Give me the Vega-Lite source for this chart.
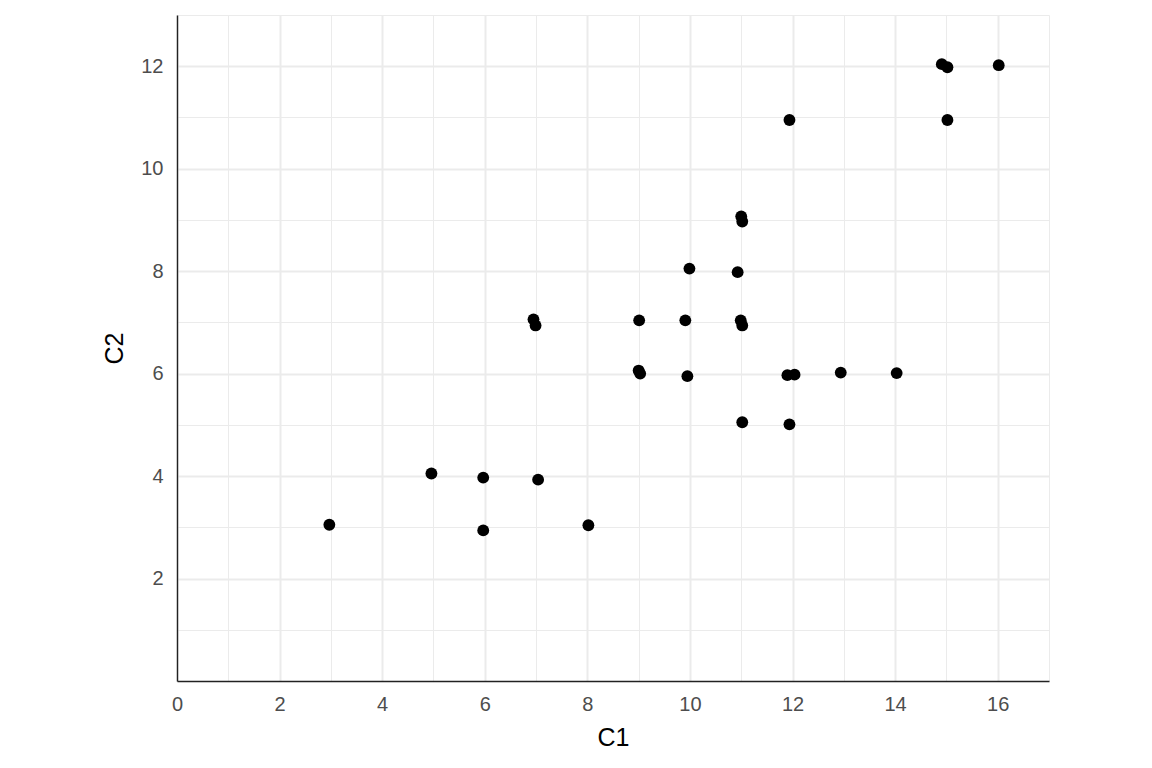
{
  "$schema": "https://vega.github.io/schema/vega-lite/v6.json",
  "width": 872,
  "height": 666,
  "autosize": {"type": "none"},
  "padding": {"left": 177, "top": 15, "right": 103, "bottom": 87},
  "background": "white",
  "config": {
    "view": {"stroke": null}
  },
  "data": {
    "values": [
      {"C1": 2.97, "C2": 3.05},
      {"C1": 4.96, "C2": 4.05},
      {"C1": 5.97, "C2": 3.97},
      {"C1": 5.97, "C2": 2.94},
      {"C1": 7.04, "C2": 3.93},
      {"C1": 8.02, "C2": 3.04},
      {"C1": 6.95, "C2": 7.06},
      {"C1": 6.99, "C2": 6.94},
      {"C1": 9.0, "C2": 6.06},
      {"C1": 9.03, "C2": 6.0},
      {"C1": 9.01, "C2": 7.04},
      {"C1": 9.91, "C2": 7.04},
      {"C1": 9.95, "C2": 5.95},
      {"C1": 9.99, "C2": 8.05},
      {"C1": 10.93, "C2": 7.98},
      {"C1": 11.0, "C2": 9.07},
      {"C1": 11.02, "C2": 8.97},
      {"C1": 10.99, "C2": 7.04},
      {"C1": 11.02, "C2": 6.94},
      {"C1": 11.02, "C2": 5.05},
      {"C1": 11.94, "C2": 5.01},
      {"C1": 11.9, "C2": 5.97},
      {"C1": 12.04, "C2": 5.98},
      {"C1": 12.94, "C2": 6.02},
      {"C1": 14.03, "C2": 6.01},
      {"C1": 11.94, "C2": 10.95},
      {"C1": 14.91, "C2": 12.04},
      {"C1": 15.02, "C2": 11.98},
      {"C1": 15.02, "C2": 10.95},
      {"C1": 16.02, "C2": 12.02}
    ]
  },
  "mark": {"type": "circle", "size": 140, "color": "black", "opacity": 1},
  "encoding": {
    "x": {
      "field": "C1",
      "type": "quantitative",
      "scale": {"domain": [0, 17], "nice": false, "zero": false},
      "axis": {
        "title": "C1",
        "values": [0,1,2,3,4,5,6,7,8,9,10,11,12,13,14,15,16,17],
        "labelExpr": "datum.value % 2 === 0 ? datum.label : ''",
        "labelFlush": false,
        "labelOverlap": false,
        "labelFont": "Liberation Sans",
        "labelFontSize": 20,
        "labelColor": "#4d4d4d",
        "labelPadding": 13,
        "ticks": false,
        "domainColor": "#222222",
        "domainWidth": 1.4,
        "titleFont": "Liberation Sans",
        "titleFontSize": 25,
        "titleFontWeight": "normal",
        "titleColor": "black",
        "titleY": 44,
        "gridColor": "#ebebeb",
        "gridWidth": {"condition": {"test": "datum.value % 2 === 1", "value": 1}, "value": 2}
      }
    },
    "y": {
      "field": "C2",
      "type": "quantitative",
      "scale": {"domain": [0, 13], "nice": false, "zero": false},
      "axis": {
        "title": "C2",
        "values": [1,2,3,4,5,6,7,8,9,10,11,12,13],
        "labelExpr": "datum.value % 2 === 0 ? datum.label : ''",
        "labelFlush": false,
        "labelOverlap": false,
        "labelFont": "Liberation Sans",
        "labelFontSize": 20,
        "labelColor": "#4d4d4d",
        "labelPadding": 14,
        "ticks": false,
        "domainColor": "#222222",
        "domainWidth": 1.4,
        "titleFont": "Liberation Sans",
        "titleFontSize": 25,
        "titleFontWeight": "normal",
        "titleColor": "black",
        "titleX": -50,
        "gridColor": "#ebebeb",
        "gridWidth": {"condition": {"test": "datum.value % 2 === 1", "value": 1}, "value": 2}
      }
    }
  }
}
